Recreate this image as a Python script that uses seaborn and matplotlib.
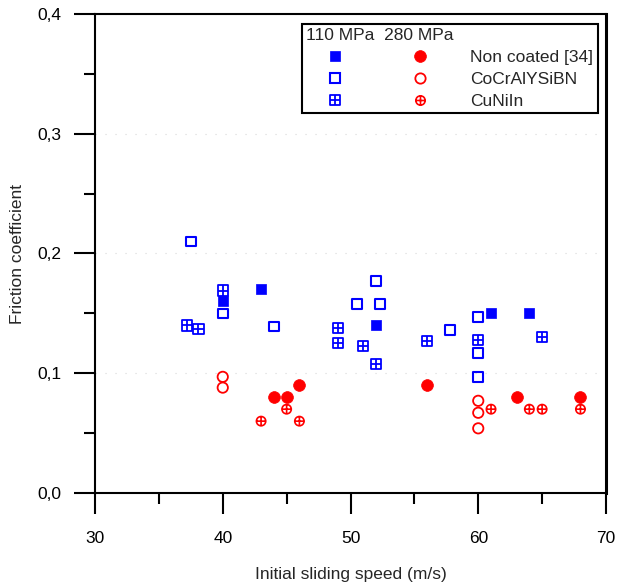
import numpy as np
import pandas as pd
import matplotlib
matplotlib.use("Agg")
import matplotlib.pyplot as plt
import seaborn as sns
from matplotlib.path import Path
from matplotlib.lines import Line2D
from matplotlib.legend_handler import HandlerTuple
from matplotlib.ticker import MultipleLocator, FuncFormatter

# data: speed (m/s) / friction coefficient
nc_110_speed = [40, 43, 52, 61, 64]
nc_110_mu = [0.160, 0.170, 0.140, 0.150, 0.150]
nc_280_speed = [44, 45, 46, 56, 63, 68]
nc_280_mu = [0.080, 0.080, 0.090, 0.090, 0.080, 0.080]

co_110_speed = [37.5, 40, 44, 50.5, 52, 52.3, 57.8, 60, 60, 60]
co_110_mu = [0.210, 0.150, 0.139, 0.158, 0.177, 0.158, 0.136, 0.147, 0.117, 0.097]
co_280_speed = [40, 40, 60, 60, 60]
co_280_mu = [0.097, 0.088, 0.077, 0.067, 0.054]

cu_110_speed = [37.2, 38.1, 40, 49, 49, 51, 52, 56, 60, 65]
cu_110_mu = [0.140, 0.137, 0.169, 0.138, 0.125, 0.123, 0.108, 0.127, 0.128, 0.130]
cu_280_speed = [43, 45, 46, 61, 64, 65, 68]
cu_280_mu = [0.060, 0.070, 0.060, 0.070, 0.070, 0.070, 0.070]

coatings = ["Non coated [34]", "CoCrAlYSiBN", "CuNiIn"]
pressures = ["110 MPa", "280 MPa"]

blue = (0, 0, 1)
red = (1, 0, 0)
FS = 12.5

# markers with a cross inside (square and circle)
sq = [(-1, -1), (1, -1), (1, 1), (-1, 1), (-1, -1)]
cross = [(-1, 0), (1, 0), (0, -1), (0, 1)]
crossed_square = Path(sq + cross,
                      [Path.MOVETO] + [Path.LINETO] * 3 + [Path.CLOSEPOLY]
                      + [Path.MOVETO, Path.LINETO, Path.MOVETO, Path.LINETO])
crossed_circle = Path.make_compound_path(
    Path.unit_circle(),
    Path(cross, [Path.MOVETO, Path.LINETO, Path.MOVETO, Path.LINETO]))

# (speed, mu, marker, face, edge, size, lw)
groups = [
    (nc_110_speed, nc_110_mu, "s", blue, blue, 58, 0.5),
    (co_110_speed, co_110_mu, "s", "none", blue, 48, 1.5),
    (cu_110_speed, cu_110_mu, crossed_square, "none", blue, 55, 1.3),
    (nc_280_speed, nc_280_mu, "o", red, red, 72, 0.5),
    (co_280_speed, co_280_mu, "o", "none", red, 55, 1.3),
    (cu_280_speed, cu_280_mu, crossed_circle, "none", red, 45, 1.2),
]

sns.set_style("ticks")
plt.rcParams["font.family"] = ["Liberation Sans", "DejaVu Sans"]
plt.rcParams["font.size"] = FS

fig = plt.figure(figsize=(6.19, 5.84), dpi=100)
ax = fig.add_axes([95 / 619, 1 - 493 / 584, 511 / 619, 479 / 584])

for spd, mu, mk, fc, ec, s, lw in groups:
    df = pd.DataFrame({"speed": spd, "mu": mu})
    sns.scatterplot(data=df, x="speed", y="mu", marker=mk, color=ec,
                    facecolor=fc, edgecolor=ec, s=s, linewidth=lw,
                    ax=ax, zorder=3, legend=False)

ax.set_xlim(30, 70)
ax.set_ylim(0, 0.4)
ax.xaxis.set_major_locator(MultipleLocator(10))
ax.xaxis.set_minor_locator(MultipleLocator(5))
ax.yaxis.set_major_locator(MultipleLocator(0.1))
ax.yaxis.set_minor_locator(MultipleLocator(0.05))
ax.yaxis.set_major_formatter(FuncFormatter(lambda v, p: f"{v:.1f}".replace(".", ",")))
ax.xaxis.set_major_formatter(FuncFormatter(lambda v, p: f"{v:.0f}"))

ax.tick_params(which="major", direction="out", length=15, width=1.5,
               color="black", labelsize=FS, labelcolor="black")
ax.tick_params(which="minor", direction="out", length=8, width=1.5, color="black")
ax.tick_params(axis="y", which="major", pad=9)
ax.tick_params(axis="x", which="major", pad=12.5)

for side in ["left", "bottom", "top", "right"]:
    ax.spines[side].set_visible(True)
    ax.spines[side].set_color("black")
    ax.spines[side].set_linewidth(1.5)
ax.spines["right"].set_linewidth(2.2)

ax.grid(axis="y", which="major", color="#d8d8d8", linestyle=(0, (1, 8)), linewidth=0.8)
ax.set_axisbelow(True)

ax.set_xlabel("Initial sliding speed (m/s)", fontsize=FS, labelpad=15)
ax.set_ylabel("Friction coefficient", fontsize=FS, labelpad=9)

# legend: square (110 MPa) and circle (280 MPa) on one row per coating
handles = []
for i in range(3):
    _, _, mk1, fc1, ec1, s1, lw1 = groups[i]
    _, _, mk2, fc2, ec2, s2, lw2 = groups[i + 3]
    h1 = Line2D([], [], linestyle="none", marker=mk1, markersize=np.sqrt(s1),
                markerfacecolor=fc1, markeredgecolor=ec1, markeredgewidth=lw1)
    h2 = Line2D([], [], linestyle="none", marker=mk2, markersize=np.sqrt(s2),
                markerfacecolor=fc2, markeredgecolor=ec2, markeredgewidth=lw2)
    handles.append((h1, h2))

leg = ax.legend(handles, coatings, title="  ".join(pressures),
                handler_map={tuple: HandlerTuple(ndivide=None, pad=1.6)},
                handlelength=8.2, handletextpad=1.25, labelspacing=0.38,
                loc="upper right", bbox_to_anchor=(0.984, 0.979),
                borderaxespad=0, fancybox=False, framealpha=1,
                edgecolor="black", fontsize=FS, title_fontsize=FS,
                alignment="left", borderpad=0.25)
leg.get_frame().set_linewidth(1.5)

fig.savefig("out.png", dpi=100)
